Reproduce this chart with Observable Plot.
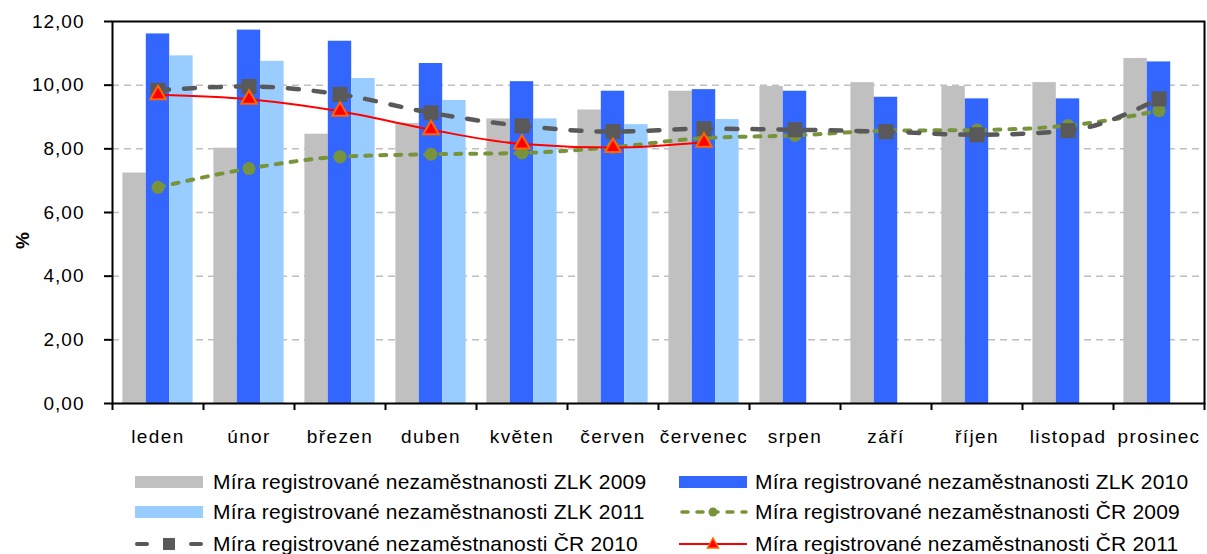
<!DOCTYPE html>
<html><head><meta charset="utf-8">
<script src="https://cdn.jsdelivr.net/npm/d3@7"></script>
<script src="https://cdn.jsdelivr.net/npm/@observablehq/plot@0.6"></script>
<style>
body{margin:0;background:#fff;font-family:"Liberation Sans",Arial,sans-serif;}
#wrap{position:relative;width:1207px;height:554px;overflow:hidden;}
#legend{position:absolute;left:0;top:460px;width:1207px;height:94px;}
.sw{position:absolute;}
.lt{position:absolute;font-size:21px;letter-spacing:0.2px;color:#000;white-space:nowrap;line-height:24px;}
svg g[aria-label="x-axis tick label"] text{letter-spacing:1.4px;}
svg g[aria-label="y-axis tick label"] text{letter-spacing:1px;}
</style>
</head><body>
<div id="wrap"><div id="chart"></div><div id="legend"></div></div>
<script>
const months = ["leden","únor","březen","duben","květen","červen","červenec","srpen","září","říjen","listopad","prosinec"];
const zlk2009 = [7.24, 8.02, 8.46, 8.80, 8.94, 9.22, 9.81, 9.96, 10.08, 9.96, 10.08, 10.84];
const zlk2010 = [11.61, 11.73, 11.38, 10.68, 10.11, 9.81, 9.86, 9.81, 9.62, 9.57, 9.57, 10.73];
const zlk2011 = [10.92, 10.75, 10.21, 9.52, 8.94, 8.76, 8.92, null, null, null, null, null];
const cr2009 = [6.79, 7.38, 7.75, 7.83, 7.87, 8.05, 8.34, 8.42, 8.57, 8.59, 8.73, 9.20];
const cr2010 = [9.84, 9.96, 9.71, 9.13, 8.72, 8.54, 8.63, 8.60, 8.54, 8.44, 8.57, 9.57];
const cr2011 = [9.70, 9.56, 9.18, 8.60, 8.15, 8.04, 8.21, null, null, null, null, null];
const yTicks = [0, 2, 4, 6, 8, 10, 12];
const gridValues = [2, 4, 6, 8, 10];
const seriesNames = [
  "Míra registrované nezaměstnanosti ZLK 2009",
  "Míra registrované nezaměstnanosti ZLK 2010",
  "Míra registrované nezaměstnanosti ZLK 2011",
  "Míra registrované nezaměstnanosti ČR 2009",
  "Míra registrované nezaměstnanosti ČR 2010",
  "Míra registrované nezaměstnanosti ČR 2011"
];

const W = 1207, H = 460, mL = 112, mR = 3, mT = 21, mB = 57;
const bw = (W - mL - mR) / months.length;
const barW = 23.4;
const inset = (bw - barW) / 2;
const rows = (vals) => months.map((m, i) => ({month: m, value: vals[i]})).filter(d => d.value != null);

const C = {g9: "#C0C0C0", b10: "#3366FF", l11: "#99CCFF", cr9: "#77933C", cr10: "#595959", cr11: "#FF0000", cr11s: "#FF6600"};

const chart = Plot.plot({
  width: W, height: H,
  marginLeft: mL, marginRight: mR, marginTop: mT, marginBottom: mB,
  style: {fontFamily: '"Liberation Sans", Arial, sans-serif', color: "#000", background: "#fff"},
  x: {type: "band", domain: months, padding: 0},
  y: {domain: [0, 12]},
  marks: [
    Plot.ruleY(gridValues, {stroke: "#C0C0C0", strokeWidth: 1.5, strokeDasharray: "7,5"}),
    Plot.barY(rows(zlk2009), {x: "month", y: "value", fill: C.g9, insetLeft: inset, insetRight: inset, dx: -barW}),
    Plot.barY(rows(zlk2010), {x: "month", y: "value", fill: C.b10, insetLeft: inset, insetRight: inset}),
    Plot.barY(rows(zlk2011), {x: "month", y: "value", fill: C.l11, insetLeft: inset, insetRight: inset, dx: barW}),
    Plot.line(rows(cr2009), {x: "month", y: "value", stroke: C.cr9, strokeWidth: 4, strokeDasharray: "6,9", strokeLinecap: "round", curve: "monotone-x"}),
    Plot.dot(rows(cr2009), {x: "month", y: "value", r: 6.5, fill: C.cr9}),
    Plot.line(rows(cr2010), {x: "month", y: "value", stroke: C.cr10, strokeWidth: 4.5, strokeDasharray: "11,15", strokeLinecap: "round", curve: "monotone-x"}),
    Plot.dot(rows(cr2010), {x: "month", y: "value", r: 8.5, symbol: "square", fill: C.cr10}),
    Plot.line(rows(cr2011), {x: "month", y: "value", stroke: C.cr11, strokeWidth: 2, curve: "monotone-x"}),
    Plot.dot(rows(cr2011), {x: "month", y: "value", r: 5.8, symbol: "triangle", fill: C.cr11, stroke: C.cr11s, strokeWidth: 2}),
    Plot.frame({stroke: "#000", strokeWidth: 2}),
    Plot.ruleX(months, {x: d => d, dx: -bw / 2, y1: 0, y2: 0, insetBottom: -7, stroke: "#000", strokeWidth: 2}),
    Plot.ruleX(months.slice(-1), {x: d => d, dx: bw / 2, y1: 0, y2: 0, insetBottom: -7, stroke: "#000", strokeWidth: 2}),
    Plot.axisY({ticks: yTicks, tickSize: 8, tickPadding: 20, strokeWidth: 2, fontSize: 19,
      tickFormat: d => d.toFixed(2).replace(".", ","), label: null}),
    Plot.axisX({tickSize: 0, tickPadding: 26, fontSize: 19, label: null}),
    Plot.text(["%"], {text: d => d, frameAnchor: "left", dx: -90, dy: 28, rotate: -90, textAnchor: "middle", fontSize: 19, fontWeight: "bold"})
  ]
});
document.getElementById("chart").appendChild(chart);

// Legend
const legend = document.getElementById("legend");
const rowsY = [22, 52, 84];
const colSw = [135, 679];
const colTx = [213, 755];
function swatchSVG(kind) {
  const w = 70, h = 20, cy = 10;
  let s = `<svg width="${w}" height="${h}" xmlns="http://www.w3.org/2000/svg">`;
  if (kind.type === "bar") {
    s += `<rect x="0" y="${cy - 6}" width="68" height="12" fill="${kind.color}"/>`;
  } else if (kind.type === "cr9") {
    s += `<line x1="3" y1="${cy}" x2="67" y2="${cy}" stroke="${C.cr9}" stroke-width="3.5" stroke-dasharray="6,9" stroke-linecap="round"/>`;
    s += `<circle cx="34" cy="${cy}" r="4.5" fill="${C.cr9}"/>`;
  } else if (kind.type === "cr10") {
    s += `<line x1="2" y1="${cy}" x2="12" y2="${cy}" stroke="${C.cr10}" stroke-width="4" stroke-linecap="round"/>`;
    s += `<line x1="56" y1="${cy}" x2="66" y2="${cy}" stroke="${C.cr10}" stroke-width="4" stroke-linecap="round"/>`;
    s += `<rect x="28" y="${cy - 6}" width="12" height="12" fill="${C.cr10}"/>`;
  } else if (kind.type === "cr11") {
    s += `<line x1="0" y1="${cy}" x2="68" y2="${cy}" stroke="${C.cr11}" stroke-width="2"/>`;
    s += `<path d="M34,${cy - 6} L39.5,${cy + 4} L28.5,${cy + 4} Z" fill="${C.cr11}" stroke="${C.cr11s}" stroke-width="1.5"/>`;
  }
  return s + "</svg>";
}
const kinds = [
  {type: "bar", color: C.g9}, {type: "bar", color: C.b10},
  {type: "bar", color: C.l11}, {type: "cr9"},
  {type: "cr10"}, {type: "cr11"}
];
seriesNames.forEach((name, i) => {
  const r = Math.floor(i / 2), c = i % 2;
  const sw = document.createElement("div");
  sw.className = "sw";
  sw.style.left = colSw[c] + "px";
  sw.style.top = (rowsY[r] - 10) + "px";
  sw.innerHTML = swatchSVG(kinds[i]);
  legend.appendChild(sw);
  const tx = document.createElement("div");
  tx.className = "lt";
  tx.style.left = colTx[c] + "px";
  tx.style.top = (rowsY[r] - 12) + "px";
  tx.textContent = name;
  legend.appendChild(tx);
});
</script>
</body></html>
